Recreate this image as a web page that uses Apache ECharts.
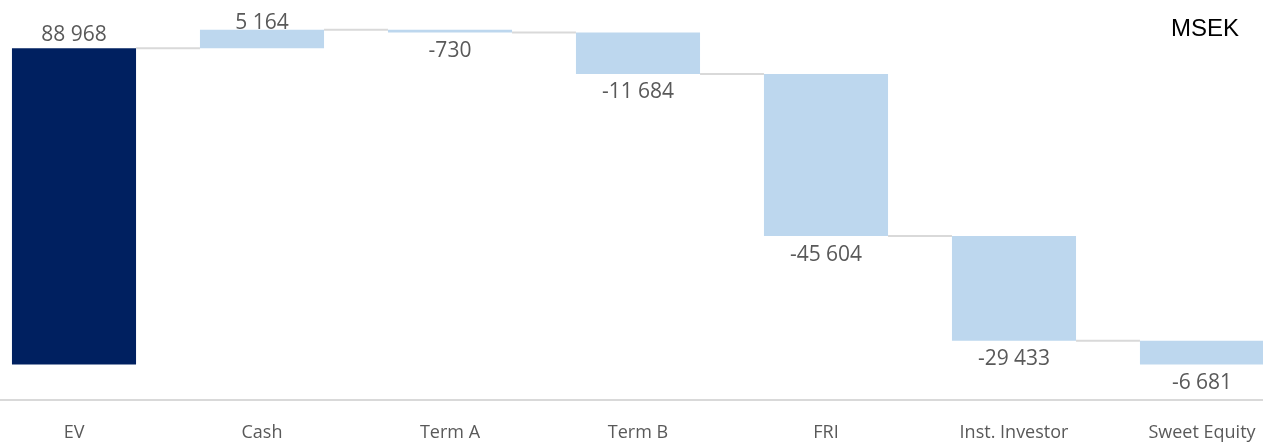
<!DOCTYPE html>
<html>
<head>
<meta charset="utf-8">
<script src="https://cdn.jsdelivr.net/npm/echarts@6/dist/echarts.min.js"></script>
<style>
html,body{margin:0;padding:0;background:#fff;overflow:hidden;width:1263px;height:442px;}
#chart{width:1316px;height:442px;margin-left:-20px;}
</style>
</head>
<body>
<div id="chart"></div>
<script>
var categories = ['EV', 'Cash', 'Term A', 'Term B', 'FRI', 'Inst. Investor', 'Sweet Equity'];
var changes = [88968, 5164, -730, -11684, -45604, -29433, -6681];
var unitLabel = 'MSEK';

var starts = [], ends = [];
var run = 0;
for (var i = 0; i < changes.length; i++) {
  starts.push(run);
  run += changes[i];
  ends.push(run);
}

function fmt(v) {
  var s = Math.abs(v).toString().replace(/\B(?=(\d{3})+(?!\d))/g, ' ');
  return (v < 0 ? '-' : '') + s;
}

var baseData = changes.map(function (v, i) { return Math.min(starts[i], ends[i]); });
var deltaData = changes.map(function (v, i) {
  return {
    value: Math.abs(v),
    itemStyle: { color: i === 0 ? '#002060' : '#BDD7EE' },
    label: {
      position: v >= 0 ? 'top' : 'bottom',
      distance: v >= 0 ? (i === 1 ? -4 : 3) : 8
    }
  };
});
var connectorData = [];
for (var j = 0; j < changes.length - 1; j++) connectorData.push([j, ends[j]]);

var chart = echarts.init(document.getElementById('chart'));
chart.setOption({
  animation: false,
  title: {
    text: unitLabel,
    right: 57,
    top: 17,
    padding: 0,
    textStyle: { fontFamily: 'Liberation Sans', fontSize: 24, fontWeight: 'normal', color: '#000' }
  },
  grid: { left: 0, right: 0, top: 9, bottom: 41, containLabel: false },
  xAxis: {
    type: 'category',
    data: categories,
    axisLine: { onZero: false, lineStyle: { color: '#D9D9D9', width: 2 } },
    axisTick: { show: false },
    axisLabel: { interval: 0, margin: 24, color: '#595959', fontFamily: 'Open Sans', fontSize: 18 }
  },
  yAxis: {
    type: 'value',
    min: -10000,
    max: 100000,
    show: false,
    splitLine: { show: false }
  },
  series: [
    {
      type: 'bar',
      stack: 'wf',
      barWidth: '66%',
      itemStyle: { color: 'transparent' },
      data: baseData,
      silent: true
    },
    {
      type: 'bar',
      stack: 'wf',
      barWidth: '66%',
      data: deltaData,
      label: {
        show: true,
        color: '#595959',
        fontFamily: 'Open Sans',
        fontSize: 21,
        formatter: function (p) { return fmt(changes[p.dataIndex]); }
      }
    },
    {
      type: 'custom',
      silent: true,
      z: 1,
      data: connectorData,
      renderItem: function (params, api) {
        var idx = api.value(0);
        var p1 = api.coord([idx, api.value(1)]);
        var p2 = api.coord([idx + 1, api.value(1)]);
        var band = api.size([1, 0])[0];
        var half = band * 0.33;
        return {
          type: 'line',
          shape: { x1: p1[0] + half, y1: p1[1], x2: p2[0] - half, y2: p2[1] },
          style: { stroke: '#D9D9D9', lineWidth: 2 }
        };
      }
    }
  ]
});
</script>
</body>
</html>
